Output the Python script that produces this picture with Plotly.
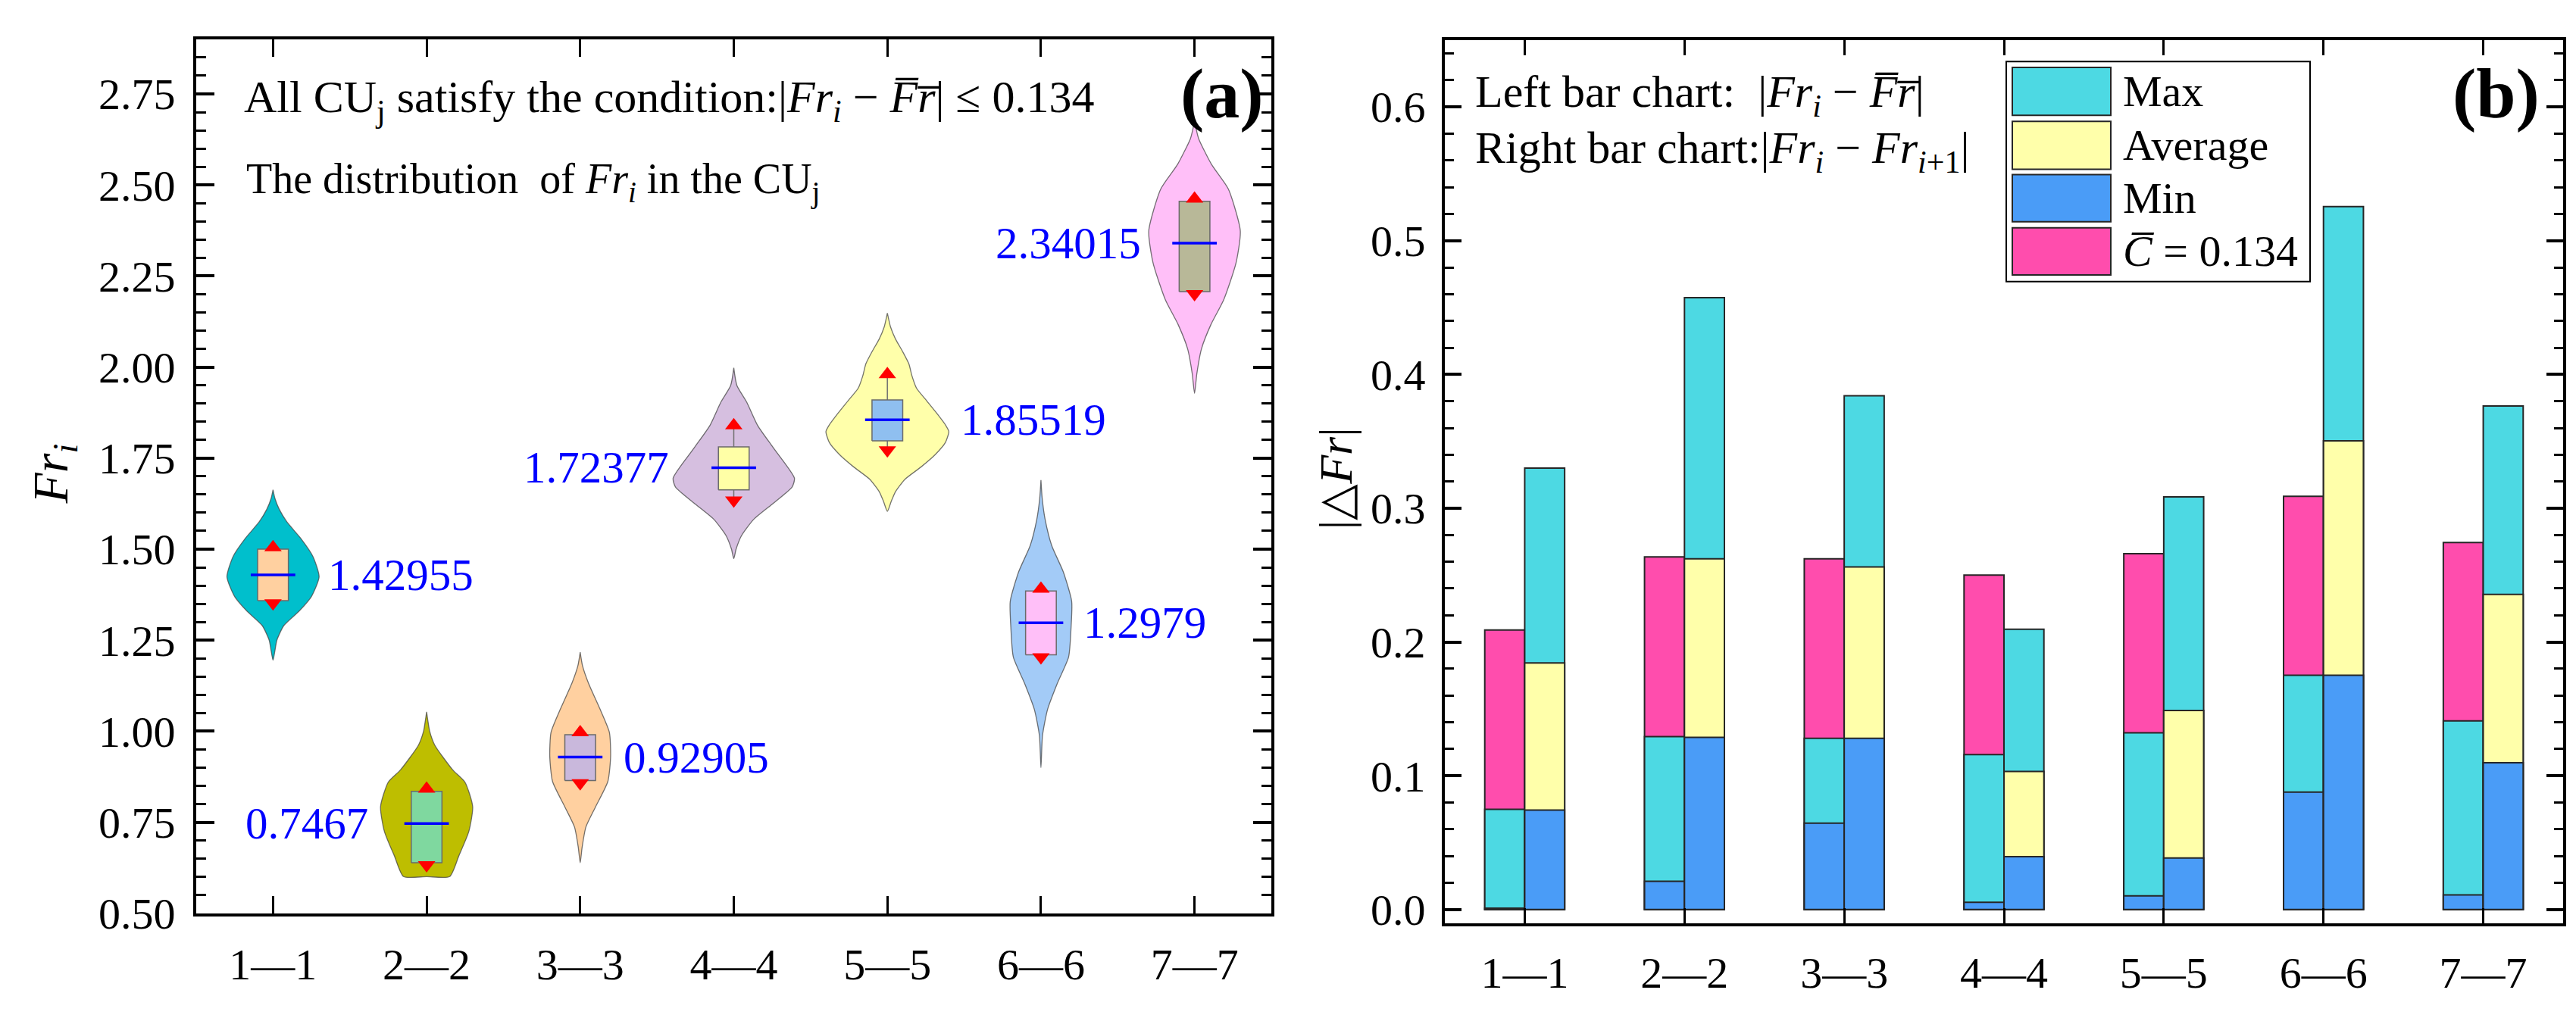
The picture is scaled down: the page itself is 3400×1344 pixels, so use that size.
import plotly.graph_objects as go

# ---------------- data ----------------
CATEGORIES = ["1—1", "2—2", "3—3", "4—4", "5—5", "6—6", "7—7"]
POSITIONS = [1, 2, 3, 4, 5, 6, 7]

# panel (a): violin outlines (value levels, half-width in category units)
PROFILE_Y = [
    [1.195, 1.22, 1.25, 1.29, 1.33, 1.37, 1.424, 1.48, 1.53, 1.575, 1.61, 1.64, 1.663],
    [0.601, 0.601, 0.658, 0.725, 0.793, 0.86, 0.894, 0.962, 1.0, 1.03, 1.053],
    [0.639, 0.68, 0.737, 0.79, 0.862, 0.93, 0.997, 1.06, 1.132, 1.18, 1.217],
    [1.474, 1.50, 1.537, 1.582, 1.627, 1.671, 1.695, 1.777, 1.84, 1.903, 1.95, 1.998],
    [1.604, 1.631, 1.658, 1.692, 1.726, 1.759, 1.793, 1.823, 1.840, 1.874, 1.908,
     1.942, 1.976, 2.009, 2.043, 2.077, 2.111, 2.148],
    [0.90, 0.988, 1.06, 1.132, 1.204, 1.285, 1.357, 1.438, 1.51, 1.582, 1.64, 1.69],
    [1.928, 1.982, 2.05, 2.117, 2.185, 2.286, 2.374, 2.489, 2.557, 2.627, 2.655, 2.677],
]
PROFILE_HALFWIDTH = [
    [0, 0.012, 0.025, 0.07, 0.17, 0.25, 0.30, 0.26, 0.18, 0.09, 0.04, 0.012, 0],
    [0, 0.15, 0.21, 0.275, 0.30, 0.25, 0.17, 0.053, 0.02, 0.008, 0],
    [0, 0.012, 0.037, 0.097, 0.18, 0.198, 0.19, 0.13, 0.054, 0.015, 0],
    [0, 0.015, 0.05, 0.13, 0.26, 0.38, 0.395, 0.26, 0.155, 0.085, 0.02, 0],
    [0, 0.025, 0.053, 0.115, 0.22, 0.31, 0.378, 0.40, 0.38, 0.32, 0.255,
     0.19, 0.16, 0.14, 0.099, 0.053, 0.02, 0],
    [0, 0.01, 0.043, 0.107, 0.18, 0.196, 0.20, 0.145, 0.07, 0.027, 0.008, 0],
    [0, 0.015, 0.045, 0.107, 0.19, 0.27, 0.298, 0.22, 0.11, 0.027, 0.01, 0],
]
BOX_Q1 = [1.3585, 0.6393, 0.8648, 1.663, 1.7977, 1.21, 2.207]
BOX_Q3 = [1.500, 0.8353, 0.9907, 1.781, 1.910, 1.3854, 2.455]
MEDIANS = [1.42955, 0.7467, 0.92905, 1.72377, 1.85519, 1.2979, 2.34015]
LOWER = [1.352, 0.6326, 0.8577, 1.634, 1.772, 1.2037, 2.201]
UPPER = [1.505, 0.842, 0.997, 1.8396, 1.980, 1.391, 2.462]

# panel (b): left bars |Fr_i - mean Fr|, right bars |Fr_i - Fr_i+1|
LEFT_TOTAL = [0.209, 0.2637, 0.2622, 0.250, 0.266, 0.309, 0.2744]
LEFT_MAX = [0.0749, 0.1293, 0.128, 0.1159, 0.1322, 0.1751, 0.141]
LEFT_MIN = [0.001, 0.0212, 0.0646, 0.0054, 0.0102, 0.0878, 0.011]
RIGHT_MAX = [0.330, 0.4574, 0.3841, 0.2095, 0.3085, 0.5255, 0.3765]
RIGHT_AVG = [0.1844, 0.2622, 0.2561, 0.1032, 0.1488, 0.3504, 0.2356]
RIGHT_MIN = [0.0744, 0.1288, 0.128, 0.0395, 0.0385, 0.1751, 0.1098]

# ---------------- styles ----------------
W, H = 3400, 1344
FONT = "Liberation Serif"
VIOLIN_COLORS = ["#00BFCC", "#BEBE00", "#FFD0A0", "#D6BFE0", "#FFFFAA", "#A3CBF7", "#FFBFF8"]
BOX_COLORS = ["#FFD0A0", "#7FD89F", "#C9B8DC", "#FFFFA6", "#8FBFF0", "#FFBFF8", "#B8B898"]
BOX_HALF = 0.1
LABEL_SIDE = ["left", "right", "left", "right", "left", "left", "right"]
LABEL_DX = [0.35, -0.37, 0.27, -0.41, 0.47, 0.265, -0.34]

CYAN, YELLOW, BLUE, PINK = "#4DD9E3", "#FFFFAA", "#4A9CF7", "#FF4DAD"
EDGE = dict(color="#262626", width=2)
NB = "\u00a0"


def px_x(p):
    return p / W


def px_y(p):
    return 1 - p / H


fig = go.Figure()

# ---- panel (a): violins, boxes, whiskers ----
for k, cx in enumerate(POSITIONS):
    ys = PROFILE_Y[k]
    ws = PROFILE_HALFWIDTH[k]
    xs = [cx + w for w in ws] + [cx - w for w in reversed(ws)]
    yy = list(ys) + list(reversed(ys))
    fig.add_trace(go.Scatter(
        x=xs, y=yy, mode="lines", fill="toself",
        fillcolor=VIOLIN_COLORS[k],
        line=dict(color="rgba(70,70,70,0.75)", width=1.3, shape="spline", smoothing=0.6),
        xaxis="x", yaxis="y", showlegend=False, hoverinfo="skip"
    ))
    # whiskers
    fig.add_trace(go.Scatter(
        x=[cx, cx, None, cx, cx],
        y=[BOX_Q3[k], UPPER[k], None, BOX_Q1[k], LOWER[k]],
        mode="lines", line=dict(color="#707070", width=1.5),
        xaxis="x", yaxis="y", showlegend=False, hoverinfo="skip"
    ))
    # box
    fig.add_trace(go.Scatter(
        x=[cx - BOX_HALF, cx + BOX_HALF, cx + BOX_HALF, cx - BOX_HALF, cx - BOX_HALF],
        y=[BOX_Q1[k], BOX_Q1[k], BOX_Q3[k], BOX_Q3[k], BOX_Q1[k]],
        mode="lines", fill="toself", fillcolor=BOX_COLORS[k],
        line=dict(color="#6a6a6a", width=1.5),
        xaxis="x", yaxis="y", showlegend=False, hoverinfo="skip"
    ))

# median lines (blue) and whisker-end triangles (red)
fig.add_trace(go.Scatter(
    x=POSITIONS, y=MEDIANS, mode="markers",
    marker=dict(symbol="line-ew", size=42, line=dict(color="#0000FF", width=3.5)),
    xaxis="x", yaxis="y", showlegend=False
))
fig.add_trace(go.Scatter(
    x=POSITIONS, y=UPPER, mode="markers",
    marker=dict(symbol="triangle-up", size=20, color="#FF0000"),
    xaxis="x", yaxis="y", showlegend=False
))
fig.add_trace(go.Scatter(
    x=POSITIONS, y=LOWER, mode="markers",
    marker=dict(symbol="triangle-down", size=20, color="#FF0000"),
    xaxis="x", yaxis="y", showlegend=False
))

# ---- panel (b): overlaid bars ----
bar_layers = [
    (LEFT_TOTAL, PINK, -0.25),
    (LEFT_MAX, CYAN, -0.25),
    (LEFT_MIN, BLUE, -0.25),
    (RIGHT_MAX, CYAN, 0.0),
    (RIGHT_AVG, YELLOW, 0.0),
    (RIGHT_MIN, BLUE, 0.0),
]
for vals, col, off in bar_layers:
    fig.add_trace(go.Bar(
        x=POSITIONS, y=vals, width=0.25, offset=off,
        marker=dict(color=col, line=EDGE),
        xaxis="x2", yaxis="y2", showlegend=False
    ))

# ---------------- axes ----------------
tick_font = dict(family=FONT, size=58, color="black")
axis_common = dict(
    showline=True, linewidth=4, linecolor="black", mirror="ticks",
    ticks="inside", tickcolor="black", showgrid=False, zeroline=False,
    tickfont=tick_font,
)

fig.update_layout(
    width=W, height=H,
    margin=dict(l=0, r=0, t=0, b=0),
    paper_bgcolor="white", plot_bgcolor="white",
    barmode="overlay",
    showlegend=False,
    font=dict(family=FONT, color="black"),
    xaxis=dict(
        axis_common, domain=[px_x(251), px_x(1670)], anchor="y",
        range=[0.5, 7.5], tickvals=POSITIONS, ticktext=CATEGORIES,
        ticklen=23, tickwidth=3, ticklabelstandoff=14,
    ),
    yaxis=dict(
        axis_common, domain=[px_y(1228), px_y(45)], anchor="x",
        range=[0.5, 2.9], tick0=0.5, dtick=0.25, tickformat=".2f",
        ticklen=24, tickwidth=4, ticklabelstandoff=12,
        minor=dict(dtick=0.05, ticks="inside", ticklen=13, tickwidth=3,
                   tickcolor="black", showgrid=False),
    ),
    xaxis2=dict(
        axis_common, domain=[px_x(1899), px_x(3375)], anchor="y2",
        range=[0.5, 7.5], tickvals=POSITIONS, ticktext=CATEGORIES,
        ticklen=20, tickwidth=3, ticklabelstandoff=12,
    ),
    yaxis2=dict(
        axis_common, domain=[px_y(1241), px_y(46)], anchor="x2",
        range=[-0.01, 0.65], tick0=0, dtick=0.1, tickformat=".1f",
        ticklen=22, tickwidth=4, ticklabelstandoff=10,
        minor=dict(dtick=0.02, ticks="inside", ticklen=12, tickwidth=3,
                   tickcolor="black", showgrid=False),
    ),
)

# ---------------- annotations ----------------
ann = []
FR_I = "<i>Fr</i><sub><i>i</i></sub>"
FR_BAR = "<i>F\u0305r\u0305</i>"
MINUS = NB + "−" + NB

# value labels beside the violins
for k, cx in enumerate(POSITIONS):
    ann.append(dict(
        x=cx + LABEL_DX[k], y=MEDIANS[k], xref="x", yref="y",
        text=str(MEDIANS[k]), showarrow=False, xanchor=LABEL_SIDE[k], yanchor="middle",
        font=dict(family=FONT, size=59, color="#0000FF"),
    ))

text_font = dict(family=FONT, size=56, color="black")
right_font = dict(family=FONT, size=60, color="black")
ann += [
    dict(x=px_x(312), y=px_y(128), xref="paper", yref="paper", xanchor="left", yanchor="middle",
         text="All CU<sub>j</sub> satisfy the condition:|" + FR_I + MINUS + FR_BAR + "|" + NB + "≤" + NB + "0.134",
         showarrow=False, font=dict(family=FONT, size=60, color="black")),
    dict(x=px_x(315), y=px_y(238), xref="paper", yref="paper", xanchor="left", yanchor="middle",
         text="The distribution" + NB + " of " + FR_I + " in the CU<sub>j</sub>",
         showarrow=False, font=text_font),
    dict(x=px_x(1937), y=px_y(120), xref="paper", yref="paper", xanchor="left", yanchor="middle",
         text="Left bar chart:" + NB + " |" + FR_I + MINUS + FR_BAR + "|",
         showarrow=False, font=right_font),
    dict(x=px_x(1937), y=px_y(196), xref="paper", yref="paper", xanchor="left", yanchor="middle",
         text="Right bar chart:|" + FR_I + MINUS + "<i>Fr</i><sub><i>i</i>+1</sub>|",
         showarrow=False, font=right_font),
    dict(x=px_x(1662), y=px_y(118), xref="paper", yref="paper", xanchor="right", yanchor="middle",
         text="<b>(a)</b>", showarrow=False, font=dict(family=FONT, size=94, color="black")),
    dict(x=px_x(3346), y=px_y(118), xref="paper", yref="paper", xanchor="right", yanchor="middle",
         text="<b>(b)</b>", showarrow=False, font=dict(family=FONT, size=94, color="black")),
    dict(x=px_x(63), y=px_y(633), xref="paper", yref="paper", xanchor="center", yanchor="middle",
         text=FR_I, textangle=-90, showarrow=False, font=dict(family=FONT, size=66, color="black")),
    dict(x=px_x(1755), y=px_y(640), xref="paper", yref="paper", xanchor="center", yanchor="middle",
         text="|△<i>Fr</i>|", textangle=-90, showarrow=False,
         font=dict(family=FONT, size=62, color="black")),
]

# ---------------- hand-drawn legend (large swatches) ----------------
shapes = [dict(type="rect", xref="paper", yref="paper",
               x0=px_x(2640), x1=px_x(3041), y0=px_y(373), y1=px_y(75),
               line=dict(color="black", width=2), fillcolor="white", layer="above")]
legend_items = [("Max", CYAN, 83, 148), ("Average", YELLOW, 156, 221),
                ("Min", BLUE, 228, 292), ("<i>C\u0305</i>" + NB + "=" + NB + "0.134", PINK, 300, 364)]
for label, col, top, bot in legend_items:
    shapes.append(dict(type="rect", xref="paper", yref="paper",
                       x0=px_x(2648), x1=px_x(2778), y0=px_y(bot), y1=px_y(top),
                       line=dict(color="#262626", width=2), fillcolor=col, layer="above"))
    ann.append(dict(x=px_x(2792), y=px_y((top + bot) / 2), xref="paper", yref="paper",
                    xanchor="left", yanchor="middle", text=label, showarrow=False,
                    font=dict(family=FONT, size=58, color="black")))

fig.update_layout(annotations=ann, shapes=shapes)

fig.write_html("out.html")
